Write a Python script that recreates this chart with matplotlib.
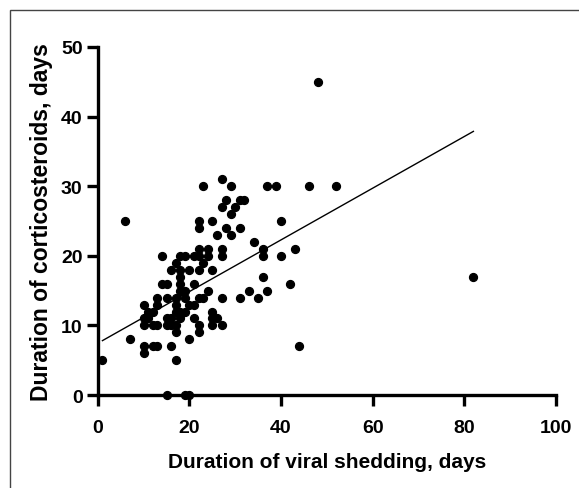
import numpy as np
import matplotlib.pyplot as plt
from matplotlib.patches import Rectangle

# Duration of viral shedding (x) and corticosteroids (y), days
shedding = [1, 6, 7, 48, 82, 46, 52, 37, 39, 27, 23, 29,
            28, 31, 32, 27, 30, 29, 22, 25, 40, 22, 28, 31,
            26, 29, 34, 22, 24, 27, 36, 43,
            14, 18, 19, 21, 22, 24, 27, 36, 40,
            17, 23,
            16, 18, 20, 22, 25,
            18, 36,
            14, 15, 18, 21, 42,
            18, 19, 24, 33, 37,
            13, 15, 17, 19, 22, 23, 27, 31, 35,
            10, 13, 17, 20, 21,
            11, 12, 17, 18, 19, 25,
            10, 11, 15, 16, 18, 21, 25, 26,
            10, 12, 13, 15, 16, 17, 22, 25, 27,
            17, 22,
            20,
            10, 12, 13, 16, 44,
            10, 17,
            15, 19, 20]
steroids = [5, 25, 8, 45, 17, 30, 30, 30, 30, 31, 30, 30,
            28, 28, 28, 27, 27, 26, 25, 25, 25, 24, 24, 24,
            23, 23, 22, 21, 21, 21, 21, 21,
            20, 20, 20, 20, 20, 20, 20, 20, 20,
            19, 19,
            18, 18, 18, 18, 18,
            17, 17,
            16, 16, 16, 16, 16,
            15, 15, 15, 15, 15,
            14, 14, 14, 14, 14, 14, 14, 14, 14,
            13, 13, 13, 13, 13,
            12, 12, 12, 12, 12, 12,
            11, 11, 11, 11, 11, 11, 11, 11,
            10, 10, 10, 10, 10, 10, 10, 10, 10,
            9, 9,
            8,
            7, 7, 7, 7, 7,
            6, 5,
            0, 0, 0]

# regression line
fit_slope = 0.371
fit_intercept = 7.45

plt.rcParams['font.family'] = ['Liberation Sans', 'DejaVu Sans']
plt.rcParams['font.weight'] = 'bold'

fig = plt.figure(figsize=(5.79, 4.89), dpi=100)
ax = fig.add_axes([0.169, 0.190, 0.791, 0.712])

ax.scatter(shedding, steroids, s=32, color='black', zorder=3, clip_on=False)

x_fit = np.array([min(shedding), max(shedding)])
ax.plot(x_fit, fit_intercept + fit_slope * x_fit, color='black', linewidth=1.0)

ax.set_xlim(0, 100)
ax.set_ylim(0, 50)
ax.set_xticks([0, 20, 40, 60, 80, 100])
ax.set_yticks([0, 10, 20, 30, 40, 50])

for side in ['top', 'right']:
    ax.spines[side].set_visible(False)
for side in ['left', 'bottom']:
    ax.spines[side].set_linewidth(2.4)
ax.tick_params(axis='both', width=2.4, length=8, labelsize=14)
ax.tick_params(axis='x', pad=9)
ax.tick_params(axis='y', pad=3)
for lab in ax.get_xticklabels() + ax.get_yticklabels():
    lab.set_fontweight('bold')

ax.set_xlabel('Duration of viral shedding, days', fontsize=15, fontweight='bold', labelpad=12)
ax.set_ylabel('Duration of corticosteroids, days', fontsize=16.5, fontweight='bold', labelpad=6)

# thin frame around the figure (cut off at right and bottom)
fig.patches.append(Rectangle((10 / 579, -0.1), 1.2, 1 - 11 / 489 + 0.1,
                             transform=fig.transFigure, fill=False,
                             edgecolor='#444444', linewidth=1.0))

fig.savefig('out.png', dpi=100)
